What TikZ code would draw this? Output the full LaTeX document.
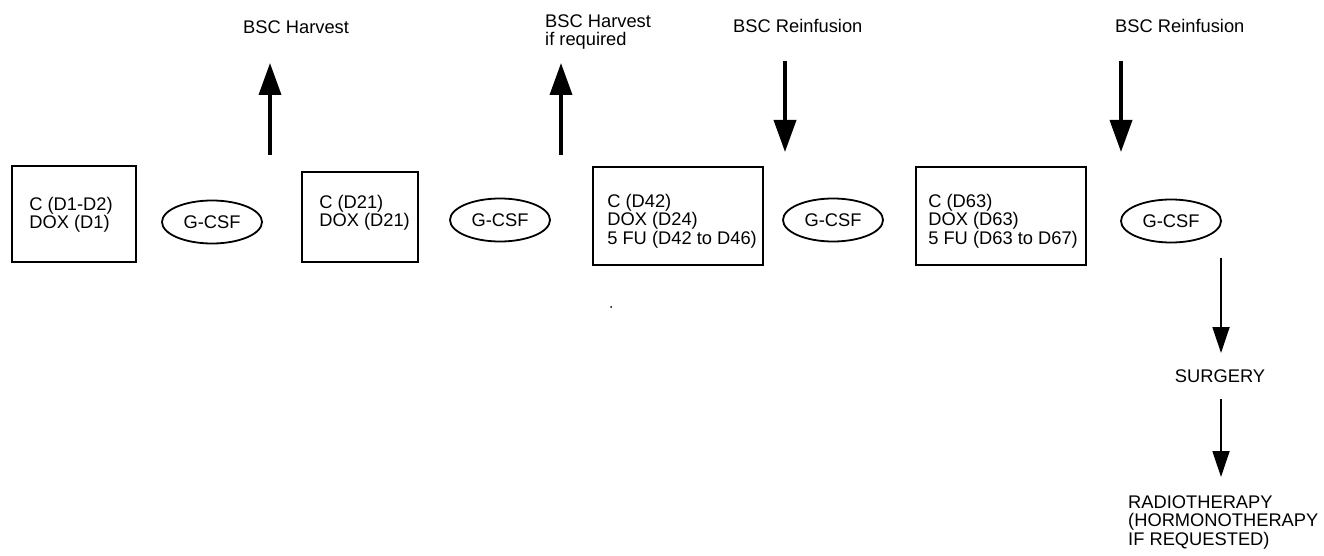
\documentclass[tikz,border=0pt]{standalone}
\usepackage{fontspec}
\setmainfont{Liberation Sans}
\usetikzlibrary{shapes.geometric,arrows.meta}
\tikzset{
  txt/.style={font=\fontsize{18.3}{18.5}\selectfont, inner sep=0pt, align=left},
  regimen/.style={draw, line width=1.8pt, inner sep=0pt},
  gcsf/.style={draw, ellipse, line width=1.8pt, minimum width=100pt, minimum height=43pt, inner sep=0pt, txt},
  bigarrow/.style={line width=3.6pt, -{Triangle[width=22pt,length=32pt]}},
  thinarrow/.style={line width=1.8pt, -{Triangle[width=17pt,length=26pt]}}
}
\begin{document}
\begin{tikzpicture}[x=1pt, y=-1pt]
\useasboundingbox (0,0) rectangle (1324,556);
% cycles of chemotherapy
\node [regimen, minimum width=124pt, minimum height=96pt] (c1) at (74,214) {};
\node [regimen, minimum width=116pt, minimum height=90pt] (c2) at (360,217) {};
\node [regimen, minimum width=170pt, minimum height=98pt] (c3) at (678,216) {};
\node [regimen, minimum width=170pt, minimum height=98pt] (c4) at (1001,216) {};
\node [txt, anchor=west] (c1txt) at ([xshift=18pt, yshift=-1pt]c1.west) {C (D1-D2)\\DOX (D1)};
\node [txt, anchor=west] (c2txt) at ([xshift=18pt, yshift=4pt]c2.west) {C (D21)\\DOX (D21)};
\node [txt, anchor=west] (c3txt) at ([xshift=15pt, yshift=-5pt]c3.west) {C (D42)\\DOX (D24)\\5 FU (D42 to D46)};
\node [txt, anchor=west] (c4txt) at ([xshift=13pt, yshift=-5pt]c4.west) {C (D63)\\DOX (D63)\\5 FU (D63 to D67)};
% growth factor
\node [gcsf] (g1) at (212,222) {G-CSF};
\node [gcsf] (g2) at (500,220) {G-CSF};
\node [gcsf] (g3) at (833,220) {G-CSF};
\node [gcsf] (g4) at (1171,221) {G-CSF};
% stem cells
\node [txt, anchor=west] (harv1) at (243,27) {BSC Harvest};
\node [txt, anchor=west] (harv2) at (545,32) {BSC Harvest\\if required};
\node [txt, anchor=west] (reinf1) at (733,26) {BSC Reinfusion};
\node [txt, anchor=west] (reinf2) at (1115,26) {BSC Reinfusion};
\coordinate (h1) at (270,155);
\coordinate (h1top) at (270,63);
\coordinate (h2) at (561,155);
\coordinate (h2top) at (561,63);
\coordinate (r1) at (785,61);
\coordinate (r1end) at (785,152);
\coordinate (r2) at (1121,61);
\coordinate (r2end) at (1121,152);
\draw [bigarrow] (h1) -- (h1top);
\draw [bigarrow] (h2) -- (h2top);
\draw [bigarrow] (r1) -- (r1end);
\draw [bigarrow] (r2) -- (r2end);
% after the last cycle
\node [txt] (surg) at (1220,376) {SURGERY};
\node [txt, anchor=west] (radio) at (1128,522) {RADIOTHERAPY\\(HORMONOTHERAPY\\IF REQUESTED)};
\coordinate (g4out) at (1221,258);
\coordinate (surgin) at (1221,353);
\coordinate (surgout) at (1221,399);
\coordinate (radioin) at (1221,477);
\draw [thinarrow] (g4out) -- (surgin);
\draw [thinarrow] (surgout) -- (radioin);
\fill (611,307) circle (1pt);
\end{tikzpicture}
\end{document}
